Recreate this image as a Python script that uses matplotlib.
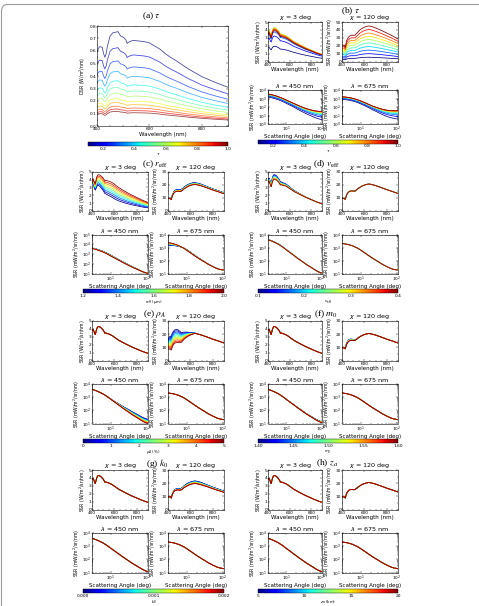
import numpy as np
import matplotlib.pyplot as plt
from matplotlib.patches import FancyBboxPatch
from matplotlib.colors import Normalize
from matplotlib.cm import ScalarMappable
from matplotlib.ticker import MultipleLocator, AutoMinorLocator, LogLocator, NullFormatter

#########################
# Data
wl = [400, 405, 410, 420, 425, 430, 435, 440, 450, 460, 470, 480, 490, 500, 510, 515,
      520, 530, 540, 560, 580, 600, 620, 640, 660, 680, 700, 750, 800, 850, 900]
ang = [3, 4, 5, 6, 8, 10, 13, 17, 22, 30, 40, 55, 70, 85, 100, 110]

# reference (red) curves
ssr3 = [3.8, 3.9, 3.95, 3.6, 3.35, 3.3, 3.6, 3.9, 4.25, 4.3, 4.25, 4.15, 4.0, 3.85, 3.6, 3.45,
        3.5, 3.45, 3.4, 3.3, 3.15, 2.95, 2.75, 2.55, 2.4, 2.25, 2.1, 1.75, 1.45, 1.15, 0.9]
ssr120 = [9.5, 9.8, 9.5, 9.8, 9.0, 8.8, 10.5, 12.0, 13.5, 14.5, 15.0, 15.2, 15.3, 15.0, 15.2, 15.0,
          15.5, 16.0, 16.8, 18.0, 19.0, 19.7, 20.2, 20.5, 20.2, 19.8, 19.3, 17.8, 16.2, 14.8, 13.3]
ssr450 = [4000, 3000, 2300, 1800, 1100, 700, 420, 250, 150, 85, 50, 30, 20, 15, 12.5, 12]
ssr675 = [2100, 1850, 1600, 1350, 950, 650, 400, 240, 150, 90, 55, 35, 26, 22, 20.5, 20.5]

# (a) direct solar radiation, top curve and level of each tau curve
dsr_top = [0.59, 0.62, 0.635, 0.63, 0.58, 0.55, 0.58, 0.64, 0.72, 0.745, 0.75, 0.755, 0.72, 0.71,
           0.69, 0.66, 0.67, 0.68, 0.685, 0.68, 0.675, 0.665, 0.64, 0.615, 0.58, 0.55, 0.525,
           0.455, 0.395, 0.35, 0.31]
dsr_tau = [0.1, 0.18, 0.26, 0.35, 0.43, 0.51, 0.59, 0.67, 0.75, 0.84, 0.92, 1.0]
dsr_level = [1.0, 0.83, 0.69, 0.58, 0.48, 0.41, 0.35, 0.29, 0.25, 0.21, 0.18, 0.155]

# parameter values of the curve families
tau_vals = [0.1, 0.2, 0.3, 0.4, 0.5, 0.6, 0.7, 0.8, 0.9, 1.0]
reff_vals = [1.2, 1.3, 1.4, 1.5, 1.6, 1.7, 1.8, 1.9, 2.0]
veff_vals = [0.1, 0.15, 0.2, 0.25, 0.3, 0.35, 0.4]
rho_vals = [0, 0.5, 1, 1.5, 2, 2.5, 3, 3.5, 4, 4.5, 5]
m0_vals = [1.40, 1.42, 1.44, 1.46, 1.48, 1.50, 1.52, 1.54, 1.56, 1.58, 1.60]
k0_vals = [0, 0.0002, 0.0004, 0.0006, 0.0008, 0.001, 0.0012, 0.0014, 0.0016, 0.0018, 0.002]
za_vals = [5, 6.5, 8, 9.5, 11, 12.5, 14, 15.5, 17, 18.5, 20]

# (b) tau
b3_fac = [0.45, 0.75, 0.87, 0.94, 0.98, 1.0, 0.99, 0.97, 0.94, 0.91]
b120_red = [20, 21, 20.5, 21, 19, 18.5, 22, 26, 29, 31, 32.5, 33, 33.5, 33, 33.5, 33,
            34, 35.5, 37, 40, 42, 43.5, 44.5, 45, 44.5, 43.5, 42.5, 39.5, 36, 32.5, 28.5]
b120_fac = [0.12, 0.22, 0.32, 0.42, 0.52, 0.62, 0.71, 0.8, 0.9, 1.0]
b450_red = [3500, 2700, 2100, 1650, 1050, 680, 420, 260, 160, 95, 62, 44, 36, 32, 30, 30]
b450_blue = [1500, 1150, 900, 700, 440, 280, 165, 95, 52, 27, 15, 8.5, 5.5, 4.2, 3.5, 3.2]
b675_red = [1600, 1450, 1250, 1050, 750, 520, 330, 200, 125, 80, 55, 42, 38, 37, 37, 38]
b675_blue = [800, 700, 600, 500, 350, 230, 140, 80, 45, 24, 13, 7.5, 5.5, 4.5, 4, 4]
b_log_w = [0, 0.3, 0.5, 0.64, 0.75, 0.83, 0.89, 0.94, 0.97, 1.0]

# ratios of the blue (first) and red (last) curve to the reference curves
c3_blue = [0.97, 0.96, 0.92, 0.85, 0.82, 0.8, 0.78, 0.77, 0.76, 0.75, 0.73, 0.71, 0.69, 0.67, 0.65, 0.64,
           0.63, 0.61, 0.6, 0.57, 0.55, 0.53, 0.51, 0.5, 0.49, 0.48, 0.47, 0.46, 0.45, 0.44, 0.44]
c3_red = [1.03, 1.03, 1.02, 1.03, 1.05, 1.06, 1.07, 1.08, 1.07, 1.07, 1.07, 1.07, 1.08, 1.08, 1.1, 1.11,
          1.11, 1.12, 1.12, 1.13, 1.14, 1.15, 1.15, 1.16, 1.16, 1.16, 1.16, 1.17, 1.18, 1.19, 1.2]
c120_blue = [1.0, 1.0, 1.0, 1.01, 1.02, 1.02, 1.04, 1.05, 1.06, 1.07, 1.07, 1.07, 1.07, 1.07, 1.07, 1.07,
             1.07, 1.07, 1.07, 1.07, 1.06, 1.06, 1.06, 1.05, 1.05, 1.05, 1.05, 1.04, 1.04, 1.04, 1.04]
c120_red = [0.98] * 31
c450_blue = [1.1, 1.12, 1.13, 1.14, 1.15, 1.15, 1.15, 1.14, 1.13, 1.12, 1.1, 1.08, 1.06, 1.04, 1.02, 1.02]
c450_red = [0.97, 0.96, 0.95, 0.95, 0.95, 0.95, 0.95, 0.95, 0.95, 0.96, 0.97, 0.98, 0.99, 1.0, 1.0, 1.0]
c675_blue = [0.72, 0.78, 0.86, 0.94, 1.05, 1.1, 1.1, 1.08, 1.06, 1.04, 1.03, 1.01, 1.0, 1.0, 1.0, 1.0]
c675_red = [1.18, 1.15, 1.1, 1.06, 1.0, 0.97, 0.96, 0.96, 0.97, 0.98, 0.99, 1.0, 1.0, 1.0, 1.0, 1.0]

d3_blue = [1.06, 1.06, 1.06, 1.06, 1.06, 1.07, 1.07, 1.07, 1.07, 1.07, 1.07, 1.07, 1.06, 1.06, 1.06, 1.06,
           1.06, 1.05, 1.05, 1.05, 1.04, 1.04, 1.03, 1.03, 1.02, 1.02, 1.02, 1.01, 1.01, 1.0, 1.0]
d3_red = [0.96, 0.95, 0.95, 0.94, 0.94, 0.93, 0.93, 0.93, 0.93, 0.93, 0.93, 0.94, 0.94, 0.94, 0.94, 0.95,
          0.95, 0.95, 0.95, 0.96, 0.96, 0.96, 0.97, 0.97, 0.97, 0.98, 0.98, 0.98, 0.99, 1.0, 1.0]
d450_blue = [1.08, 1.08, 1.08, 1.08, 1.08, 1.07, 1.06, 1.05, 1.04, 1.03, 1.02, 1.01, 1.0, 1.0, 1.0, 1.0]

e120_blue = [1.7, 1.75, 1.85, 1.9, 1.95, 2.0, 1.9, 1.75, 1.65, 1.6, 1.57, 1.55, 1.52, 1.5, 1.45, 1.42,
             1.38, 1.33, 1.28, 1.2, 1.13, 1.08, 1.05, 1.02, 1.01, 1.0, 1.0, 1.0, 1.0, 1.0, 1.0]
e120_red = [0.9, 0.9, 0.9, 0.9, 0.9, 0.9, 0.9, 0.9, 0.9, 0.9, 0.9, 0.9, 0.9, 0.9, 0.9, 0.9,
            0.9, 0.92, 0.94, 0.96, 0.97, 0.98, 0.99, 1.0, 1.0, 1.0, 1.0, 1.0, 1.0, 1.0, 1.0]
e450_blue = [1.0, 1.0, 1.0, 1.01, 1.03, 1.06, 1.1, 1.2, 1.3, 1.45, 1.55, 1.65, 1.7, 1.75, 1.8, 1.8]
e450_red = [1.0, 1.0, 1.0, 1.0, 1.0, 0.99, 0.98, 0.96, 0.94, 0.92, 0.9, 0.88, 0.86, 0.85, 0.85, 0.85]

f120_blue = [1.0, 1.0, 1.0, 1.02, 1.05, 1.06, 1.08, 1.08, 1.08, 1.08, 1.08, 1.07, 1.06, 1.05, 1.04, 1.03,
             1.03, 1.02, 1.02, 1.01, 1.0, 1.0, 1.0, 1.0, 1.0, 1.0, 1.0, 1.0, 1.0, 1.0, 1.0]
f450_blue = [1.0, 1.0, 1.0, 1.0, 1.01, 1.02, 1.03, 1.05, 1.06, 1.07, 1.08, 1.1, 1.12, 1.14, 1.15, 1.15]

g120_blue = [1.0, 1.0, 1.0, 1.0, 1.0, 1.0, 1.01, 1.02, 1.03, 1.03, 1.04, 1.04, 1.04, 1.04, 1.05, 1.05,
             1.05, 1.05, 1.06, 1.06, 1.06, 1.06, 1.06, 1.06, 1.06, 1.06, 1.06, 1.05, 1.05, 1.05, 1.05]
g120_red = [1.0, 1.0, 1.0, 1.0, 1.0, 1.0, 0.99, 0.98, 0.98, 0.98, 0.97, 0.97, 0.97, 0.97, 0.97, 0.97,
            0.97, 0.97, 0.97, 0.96, 0.96, 0.96, 0.96, 0.96, 0.96, 0.96, 0.96, 0.97, 0.97, 0.97, 0.97]
ones_wl = [1.0] * 31
ones_ang = [1.0] * 16

#########################
W, H = 479, 606
plt.rcParams['font.family'] = 'DejaVu Sans'
plt.rcParams['mathtext.fontset'] = 'dejavusans'
plt.rcParams['axes.linewidth'] = 0.4

fig = plt.figure(figsize=(W / 100, H / 100), dpi=100)
fig.patches.append(FancyBboxPatch((1.5 / W, -0.05), (W + 10) / W, (H - 4.5) / H + 0.05,
                                  boxstyle="round,pad=0,rounding_size=0.012",
                                  transform=fig.transFigure, fc='white', ec='#9a9a9a', lw=0.8,
                                  zorder=-5))

jet = plt.get_cmap('jet')
TFS = 3.1   # tick label size


def px(x0, y0, x1, y1):
    return [x0 / W, 1 - y1 / H, (x1 - x0) / W, (y1 - y0) / H]


def style(ax):
    ax.tick_params(which='both', direction='in', top=True, right=True, labelsize=TFS,
                   pad=0.6, width=0.3)
    ax.tick_params(which='major', length=1.6)
    ax.tick_params(which='minor', length=0.9)
    ax.tick_params(axis='x', pad=0.8)


def family(ax, x, ref, lo, hi, vals, log=False, lw=0.55):
    norm = Normalize(min(vals), max(vals))
    ref = np.array(ref, float)
    y_lo = ref * np.array(lo)
    y_hi = ref * np.array(hi)
    for v in vals:
        f = norm(v)
        if log:
            y = y_lo ** (1 - f) * y_hi ** f
        else:
            y = y_lo * (1 - f) + y_hi * f
        ax.plot(x, y, color=jet(f), lw=lw)


def wl_axes(ax, ymax, ystep, unit):
    ax.set_xlim(400, 900)
    ax.set_ylim(0, ymax)
    ax.xaxis.set_major_locator(MultipleLocator(200))
    ax.xaxis.set_minor_locator(MultipleLocator(50))
    ax.yaxis.set_major_locator(MultipleLocator(ystep))
    ax.yaxis.set_minor_locator(AutoMinorLocator(2))
    ax.set_xlabel('Wavelength (nm)', fontsize=4.0, labelpad=0.2)
    ax.set_ylabel(unit, fontsize=3.3, labelpad=0.4)
    style(ax)


def ang_axes(ax, ymin, ymax):
    ax.set_xscale('log')
    ax.set_yscale('log')
    ax.set_xlim(3, 110)
    ax.set_ylim(ymin, ymax)
    ax.yaxis.set_major_locator(LogLocator(10, numticks=10))
    ax.yaxis.set_minor_locator(LogLocator(10, subs=np.arange(2, 10), numticks=10))
    ax.yaxis.set_minor_formatter(NullFormatter())
    ax.xaxis.set_minor_formatter(NullFormatter())
    ax.set_xlabel('Scattering Angle (deg)', fontsize=4.0, labelpad=0.0)
    ax.set_ylabel('SSR (mW/m$^2$/sr/nm)', fontsize=3.3, labelpad=0.2)
    style(ax)


def cbar(x0, x1, y0, y1, vmin, vmax, ticks, ticklabels, label):
    cax = fig.add_axes(px(x0, y0, x1, y1))
    cb = fig.colorbar(ScalarMappable(Normalize(vmin, vmax), jet), cax=cax,
                      orientation='horizontal')
    cb.set_ticks(ticks)
    cb.set_ticklabels(ticklabels)
    cb.outline.set_linewidth(0.3)
    cax.tick_params(length=0, labelsize=3.2, pad=0.6)
    cb.set_label(label, fontsize=2.9, labelpad=0.0)


def head(x, y, s):
    fig.text(x / W, 1 - y / H, s, fontsize=6.8, family='Liberation Serif',
             math_fontfamily='stix', ha='center', va='center')


def panel(title, tx, ty, xl, yt, vals, fams, ylog, cb_args, bottom_top=63, bottom_h=39.5):
    # xl: left/right x of the two columns, yt: top y of the upper row
    head(tx, ty, title)
    (x0a, x1a), (x0b, x1b) = xl
    yb = yt + bottom_top
    axes = [fig.add_axes(px(x0a, yt, x1a, yt + 39.5)),
            fig.add_axes(px(x0b, yt, x1b, yt + 39.5)),
            fig.add_axes(px(x0a, yb, x1a, yb + bottom_h)),
            fig.add_axes(px(x0b, yb, x1b, yb + bottom_h))]
    titles = [r'$\chi$ = 3 deg', r'$\chi$ = 120 deg', r'$\lambda$ = 450 nm', r'$\lambda$ = 675 nm']
    for ax, t in zip(axes, titles):
        ax.set_title(t, fontsize=4.6, pad=0.8)
    if fams is not None:
        f3, f120, f450, f675 = fams
        family(axes[0], wl, *f3, vals)
        family(axes[1], wl, *f120, vals)
        family(axes[2], ang, *f450, vals, log=True)
        family(axes[3], ang, *f675, vals, log=True)
    wl_axes(axes[0], 5, 1, 'SSR (W/m$^2$/sr/nm)')
    wl_axes(axes[1], 30, 10, 'SSR (mW/m$^2$/sr/nm)')
    ang_axes(axes[2], *ylog[0])
    ang_axes(axes[3], *ylog[1])
    cbar(*cb_args)
    return axes


#########################
# (a)
ax = fig.add_axes(px(97, 26, 228, 126))
for t, lev in zip(dsr_tau, dsr_level):
    ax.plot(wl, np.array(dsr_top) * lev, color=jet((t - 0.1) / 0.9), lw=0.6, alpha=0.7)
ax.set_xlim(400, 900)
ax.set_ylim(0, 0.8)
ax.xaxis.set_major_locator(MultipleLocator(200))
ax.xaxis.set_minor_locator(MultipleLocator(50))
ax.yaxis.set_major_locator(MultipleLocator(0.1))
ax.yaxis.set_minor_locator(AutoMinorLocator(2))
ax.set_xlabel('Wavelength (nm)', fontsize=4.0, labelpad=0.4)
ax.set_ylabel('DSR (W/m$^2$/nm)', fontsize=3.3, labelpad=1)
style(ax)
head(151, 16, r'(a) $\tau$')
cbar(88, 228, 142, 146, 0.1, 1.0, [0.2, 0.4, 0.6, 0.8, 1.0],
     ['0.2', '0.4', '0.6', '0.8', '1.0'], r'$\tau$')

# (b) tau: families drawn with their own per-curve factors
axb = panel(r'(b) $\tau$', 351, 11, [(268, 322), (342, 398)], 22, tau_vals, None,
            [(1, 1e4), (1, 1e4)],
            (258, 398, 139.5, 143.5, 0.1, 1.0, [0.2, 0.4, 0.6, 0.8, 1.0],
             ['0.2', '0.4', '0.6', '0.8', '1.0'], r'$\tau$'), bottom_top=68, bottom_h=34)
for i, v in enumerate(tau_vals):
    c = jet(i / (len(tau_vals) - 1))
    axb[0].plot(wl, np.array(ssr3) * b3_fac[i], color=c, lw=0.55)
    axb[1].plot(wl, np.array(b120_red) * b120_fac[i], color=c, lw=0.55)
    w = b_log_w[i]
    axb[2].plot(ang, np.array(b450_blue) ** (1 - w) * np.array(b450_red) ** w, color=c, lw=0.55)
    axb[3].plot(ang, np.array(b675_blue) ** (1 - w) * np.array(b675_red) ** w, color=c, lw=0.55)
axb[1].set_ylim(0, 50)

# (c) r_eff
panel(r'(c) $r_{\rm eff}$', 155, 164, [(92, 148), (168, 224)], 171.5, reff_vals,
      [(ssr3, c3_blue, c3_red), (ssr120, c120_blue, c120_red),
       (ssr450, c450_blue, c450_red), (ssr675, c675_blue, c675_red)],
      [(10, 1e5), (10, 1e4)],
      (83, 224, 289, 293.3, 1.2, 2.0, [1.2, 1.4, 1.6, 1.8, 2.0],
       ['1.2', '1.4', '1.6', '1.8', '2.0'], r'$r_{\rm eff}$ ($\mu$m)'))

# (d) v_eff
panel(r'(d) $v_{\rm eff}$', 327, 164, [(268, 322), (342, 398)], 171.5, veff_vals,
      [(ssr3, d3_blue, d3_red), (ssr120, ones_wl, ones_wl),
       (ssr450, d450_blue, ones_ang), (ssr675, ones_ang, ones_ang)],
      [(10, 1e4), (10, 1e4)],
      (258, 398, 289, 293.3, 0.1, 0.4, [0.1, 0.2, 0.3, 0.4],
       ['0.1', '0.2', '0.3', '0.4'], r'$v_{\rm eff}$'))

# (e) rho_A
panel(r'(e) $\rho_A$', 155, 314, [(92, 148), (168, 224)], 321, rho_vals,
      [(ssr3, ones_wl, ones_wl), (ssr120, e120_blue, e120_red),
       (ssr450, e450_blue, e450_red), (ssr675, ones_ang, ones_ang)],
      [(10, 1e4), (10, 1e4)],
      (83, 224, 439, 443.3, 0, 5, [0, 1, 2, 3, 4, 5],
       ['0', '1', '2', '3', '4', '5'], r'$\rho_A$ (%)'))

# (f) m_0
panel(r'(f) $m_0$', 326, 314, [(268, 322), (342, 398)], 321, m0_vals,
      [(ssr3, ones_wl, ones_wl), (ssr120, f120_blue, ones_wl),
       (ssr450, f450_blue, ones_ang), (ssr675, ones_ang, ones_ang)],
      [(10, 1e4), (10, 1e4)],
      (258, 398, 439, 443.3, 1.40, 1.60, [1.40, 1.45, 1.50, 1.55, 1.60],
       ['1.40', '1.45', '1.50', '1.55', '1.60'], r'$m_0$'))

# (g) k_0
panel(r'(g) $k_0$', 157, 463, [(92, 148), (168, 224)], 470, k0_vals,
      [(ssr3, ones_wl, ones_wl), (ssr120, g120_blue, g120_red),
       (ssr450, ones_ang, ones_ang), (ssr675, ones_ang, ones_ang)],
      [(10, 1e4), (10, 1e4)],
      (83, 224, 589.3, 593.3, 0, 0.002, [0, 0.001, 0.002],
       ['0.000', '0.001', '0.002'], r'$k_0$'))

# (h) z_a
panel(r'(h) $z_a$', 327, 463, [(268, 322), (342, 398)], 470, za_vals,
      [(ssr3, ones_wl, ones_wl), (ssr120, ones_wl, ones_wl),
       (ssr450, ones_ang, ones_ang), (ssr675, ones_ang, ones_ang)],
      [(10, 1e4), (10, 1e4)],
      (258, 398, 589.3, 593.3, 5, 20, [5, 10, 15, 20],
       ['5', '10', '15', '20'], r'$z_a$ (km)'))

fig.savefig('out.png', dpi=100)
